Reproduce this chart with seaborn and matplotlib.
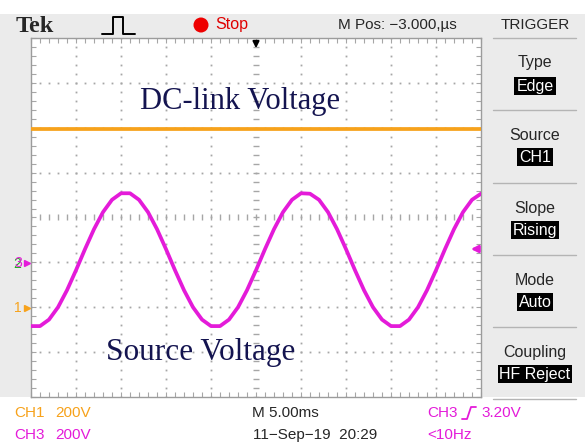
import matplotlib.pyplot as plt
import seaborn as sns
import pandas as pd
from matplotlib.patches import Rectangle, Circle

# 示波器截图: 10 x 8 div, 5 ms/div, CH1/CH3 200 V/div
t_ms = list(range(0, 51))

# CH3 电源电压 (V, 相对 CH3 地线)
ch3_v = [-284, -284, -255, -200, -124, -35, 59, 148, 224, 279,
         308, 308, 279, 224, 148, 59, -35, -124, -200, -255,
         -284, -284, -255, -200, -124, -35, 59, 148, 224, 279,
         308, 306, 279, 224, 148, 59, -35, -124, -200, -255,
         -284, -284, -255, -200, -124, -35, 59, 148, 224, 279,
         306]
# CH1 直流母线电压 (V, 相对 CH1 地线)
ch1_dc_v = 795

volts_per_div = 200
ch1_ground_div = -2
ch3_ground_div = -1

orange = '#f7a21b'
magenta = '#e41bd9'
panel_gray = '#ebebeb'
grid_gray = '#a6a6a6'

sns.set_style('white')
plt.rcParams['font.family'] = ['Liberation Sans', 'DejaVu Sans']
ui_size = 11

df = pd.DataFrame({
    't': t_ms + t_ms,
    'div': [ch1_dc_v / volts_per_div + ch1_ground_div] * len(t_ms)
           + [v / volts_per_div + ch3_ground_div for v in ch3_v],
    'ch': ['CH1'] * len(t_ms) + ['CH3'] * len(t_ms),
})

fig = plt.figure(figsize=(5.85, 4.44), dpi=100)
fig.patch.set_facecolor('white')

# 背景 (像素坐标)
bg = fig.add_axes([0, 0, 1, 1], zorder=0)
bg.set_xlim(0, 585)
bg.set_ylim(444, 0)
bg.axis('off')
bg.add_patch(Rectangle((0, 14), 585, 383, color=panel_gray, lw=0))

# 波形区域
ax = fig.add_axes([31 / 585, (444 - 397) / 444, 450 / 585, 359 / 444], zorder=1)
ax.set_facecolor('white')
ax.set_xlim(0, 50)
ax.set_ylim(-4, 4)

# 网格点
y_minor = [i / 5 for i in range(-20, 21)]
x_minor = list(range(0, 51))
for xm in range(5, 50, 5):
    if xm == 25:
        ax.plot([xm] * len(y_minor), y_minor, ls='none', marker='_', ms=5, mew=1, color=grid_gray)
    else:
        ax.plot([xm] * len(y_minor), y_minor, ls='none', marker='s', ms=1.3, mew=0, color=grid_gray)
for ym in range(-3, 4):
    if ym == 0:
        ax.plot(x_minor, [ym] * len(x_minor), ls='none', marker='|', ms=4.5, mew=1, color=grid_gray)
    else:
        ax.plot(x_minor, [ym] * len(x_minor), ls='none', marker='s', ms=1.3, mew=0, color=grid_gray)

sns.lineplot(data=df, x='t', y='div', hue='ch', palette={'CH1': orange, 'CH3': magenta},
             linewidth=2.7, legend=False, estimator=None, sort=False, ax=ax, zorder=5)

ax.set_xticks(range(0, 51, 5))
ax.set_xticks(x_minor, minor=True)
ax.set_yticks(range(-4, 5))
ax.set_yticks(y_minor, minor=True)
ax.tick_params(which='both', direction='in', top=True, right=True, bottom=True, left=True,
               labelleft=False, labelbottom=False, length=3.5, width=0.8, color=grid_gray)
ax.set_xlabel('')
ax.set_ylabel('')
for s in ax.spines.values():
    s.set_color('#9c9c9c')
    s.set_linewidth(1)

# 文字与标记 (像素坐标)
ov = fig.add_axes([0, 0, 1, 1], zorder=3)
ov.set_xlim(0, 585)
ov.set_ylim(444, 0)
ov.axis('off')
ov.patch.set_alpha(0)

ov.text(35, 26, 'Tek', family='Liberation Serif', weight='bold', size=17.5, ha='center', va='center')
ov.plot([102, 113, 113, 123, 123, 135], [34, 34, 17, 17, 34, 34], color='k', lw=1.4)
ov.add_patch(Circle((201, 25), 7.5, color='#ee0000', lw=0))
ov.text(215, 25, 'Stop', color='#e00000', size=ui_size + 0.5, ha='left', va='center')
ov.text(397, 25, 'M Pos: \u22123.000,\u00b5s', size=ui_size, ha='center', va='center')
ov.text(535, 25, 'TRIGGER', size=ui_size, ha='center', va='center')
ov.annotate('', xy=(256, 51), xytext=(256, 40),
            arrowprops=dict(arrowstyle='-|>', color='k', lw=1.5, mutation_scale=9))

# 右侧触发菜单
for ysep in [38, 110, 183, 255, 327, 399]:
    ov.plot([493, 576], [ysep, ysep], color='#b4b4b4', lw=1)
menu = [('Type', 'Edge', 63, 86), ('Source', 'CH1', 135, 157), ('Slope', 'Rising', 208, 230),
        ('Mode', 'Auto', 280, 302), ('Coupling', 'HF Reject', 352, 374)]
for title, value, yt, yv in menu:
    ov.text(535, yt, title, size=ui_size + 0.5, ha='center', va='center')
    ov.text(535, yv, value, size=ui_size + 0.5, ha='center', va='center', color='white',
            bbox=dict(boxstyle='square,pad=0.12', fc='black', ec='none'))

# 通道标记
ov.text(18, 308, '1', color=orange, size=10, ha='center', va='center')
ov.plot([27], [308], marker='>', ms=4, color=orange)
ov.text(17, 264, '2', color='#22aa22', size=10, ha='center', va='center')
ov.text(18, 263, '3', color=magenta, size=10, ha='center', va='center')
ov.plot([27], [263], marker='>', ms=4, color=magenta)
ov.annotate('', xy=(468, 249), xytext=(481, 249),
            arrowprops=dict(arrowstyle='-|>', color=magenta, lw=2, mutation_scale=10))

# 波形说明
ov.text(240, 101, 'DC-link Voltage', family='Liberation Serif', size=22, color='#141450',
        ha='center', va='center')
ov.text(201, 352, 'Source Voltage', family='Liberation Serif', size=22.5, color='#141450',
        ha='center', va='center')

# 底部状态栏
ov.text(14, 413, 'CH1', color=orange, size=ui_size, ha='left', va='center')
ov.text(55, 413, '200V', color=orange, size=ui_size, ha='left', va='center')
ov.text(14, 435, 'CH3', color=magenta, size=ui_size, ha='left', va='center')
ov.text(55, 435, '200V', color=magenta, size=ui_size, ha='left', va='center')
ov.text(285, 413, 'M 5.00ms', size=ui_size, ha='center', va='center')
ov.text(315, 435, '11\u2212Sep\u221219  20:29', size=ui_size, ha='center', va='center')
ov.text(427, 413, 'CH3', color=magenta, size=ui_size, ha='left', va='center')
ov.plot([462, 467, 471, 476], [419, 419, 407, 407], color=magenta, lw=1.3)
ov.text(481, 413, '3.20V', color=magenta, size=ui_size, ha='left', va='center')
ov.text(427, 435, '<10Hz', color=magenta, size=ui_size, ha='left', va='center')

plt.savefig('out.png', dpi=100)
